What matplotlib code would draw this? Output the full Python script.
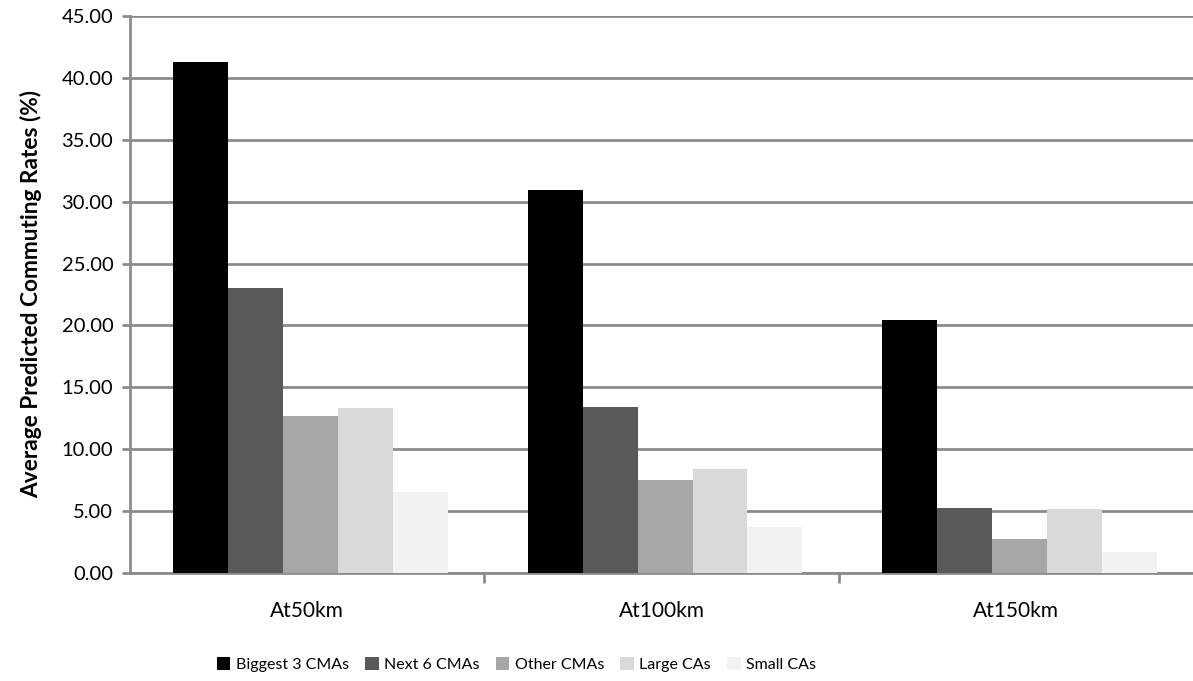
import numpy as np
import matplotlib
matplotlib.use('Agg')
import matplotlib.pyplot as plt

plt.rcParams['font.family'] = ['Lato', 'DejaVu Sans']

# 数据
categories = ["At50km", "At100km", "At150km"]
series_names = ["Biggest 3 CMAs", "Next 6 CMAs", "Other CMAs", "Large CAs", "Small CAs"]
biggest3 = [41.30, 30.90, 20.45]
next6 = [23.00, 13.40, 5.25]
other_cmas = [12.68, 7.50, 2.75]
large_cas = [13.33, 8.40, 5.17]
small_cas = [6.54, 3.72, 1.70]
y_ticks = [0, 5, 10, 15, 20, 25, 30, 35, 40, 45]

series = [biggest3, next6, other_cmas, large_cas, small_cas]
colors = ['#000000', '#595959', '#a6a6a6', '#d9d9d9', '#f2f2f2']
grid_color = '#8c8c8c'

fig = plt.figure(figsize=(11.93, 6.81), dpi=100)
ax = fig.add_axes([0.109, 0.1586, 0.891, 0.818])

x = np.arange(len(categories))
w = 0.155
for i, (vals, c, name) in enumerate(zip(series, colors, series_names)):
    ax.bar(x + (i - 2) * w + 0.01, vals, width=w, color=c, label=name, zorder=3)

# 坐标轴
ax.set_xlim(-0.5, 2.5)
ax.set_ylim(0, 45)
ax.set_yticks(y_ticks)
ax.set_yticklabels([f'{v:.2f}' for v in y_ticks], fontsize=14.5)
ax.yaxis.grid(True, color=grid_color, linewidth=2, zorder=0)
ax.set_xticks(x)
ax.set_xticklabels(categories, fontsize=15)
ax.set_xticks([0.5, 1.5], minor=True)
ax.tick_params(axis='x', which='major', length=0, pad=20)
ax.tick_params(axis='x', which='minor', length=7, width=2, color=grid_color)
ax.tick_params(axis='y', length=6, width=2, color=grid_color, pad=6)

for side in ['top', 'right']:
    ax.spines[side].set_visible(False)
for side in ['left', 'bottom']:
    ax.spines[side].set_color(grid_color)
    ax.spines[side].set_linewidth(2)

ax.set_ylabel("Average Predicted Commuting Rates (%)", fontsize=16.3, fontweight='bold', labelpad=14)

fig.legend(loc='lower center', bbox_to_anchor=(0.433, -0.008), ncol=5, frameon=False,
           fontsize=11.5, handlelength=0.85, handleheight=0.85, columnspacing=1.0, handletextpad=0.35)

fig.savefig('out.png', dpi=100)
